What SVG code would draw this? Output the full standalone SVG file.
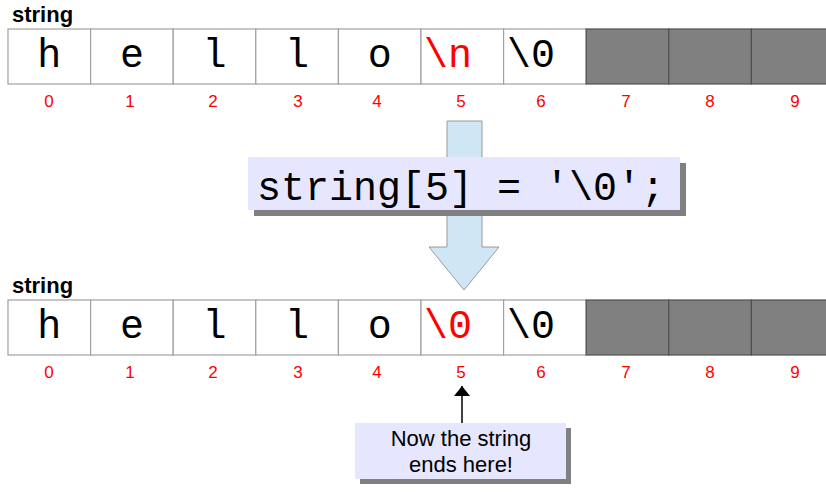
<svg xmlns="http://www.w3.org/2000/svg" width="826" height="494" viewBox="0 0 826 494">
<defs>
<style>
.lbl{font-family:"Liberation Sans",Arial,sans-serif;font-weight:bold;font-size:22px;fill:#000}
.idx{font-family:"Liberation Sans",Arial,sans-serif;font-size:17px;fill:#ff0000;text-anchor:middle}
.ch{font-family:"Liberation Mono","Courier New",monospace;font-size:40px;fill:#000}
.mid{text-anchor:middle}
.red{fill:#ff0000}
.cell{fill:#ffffff;stroke:#a0a0a0;stroke-width:1.2}
.gcell{fill:#808080;stroke:#505050;stroke-width:1.2}
.box{fill:#e6e6ff}
.shadow{fill:#808080}
.note{font-family:"Liberation Sans",Arial,sans-serif;font-size:22px;fill:#000;text-anchor:middle}
</style>
<marker id="ah" viewBox="0 0 10 16" refX="10" refY="8" markerWidth="10" markerHeight="16" markerUnits="userSpaceOnUse" orient="auto">
<path d="M0,0 L10,8 L0,16 Z" fill="#000"/>
</marker>
</defs>

<g id="array-before">
<text class="lbl" x="12" y="22">string</text>
<rect class="cell" x="8" y="29" width="82.6" height="55"/>
<rect class="cell" x="90.6" y="29" width="82.6" height="55"/>
<rect class="cell" x="173.2" y="29" width="82.6" height="55"/>
<rect class="cell" x="255.8" y="29" width="82.6" height="55"/>
<rect class="cell" x="338.4" y="29" width="82.6" height="55"/>
<rect class="cell" x="421" y="29" width="82.6" height="55"/>
<rect class="cell" x="503.6" y="29" width="82.6" height="55"/>
<rect class="gcell" x="586.2" y="29" width="82.6" height="55"/>
<rect class="gcell" x="668.8" y="29" width="82.6" height="55"/>
<rect class="gcell" x="751.4" y="29" width="82.6" height="55"/>
<text class="ch mid" x="49.3" y="67">h</text>
<text class="ch mid" x="131.9" y="67">e</text>
<text class="ch mid" x="214.5" y="67">l</text>
<text class="ch mid" x="297.1" y="67">l</text>
<text class="ch mid" x="379.7" y="67">o</text>
<text class="ch red" x="424" y="67">\n</text>
<text class="ch" x="507" y="67">\0</text>
<text class="idx" x="49" y="107">0</text>
<text class="idx" x="130" y="107">1</text>
<text class="idx" x="213" y="107">2</text>
<text class="idx" x="298" y="107">3</text>
<text class="idx" x="377" y="107">4</text>
<text class="idx" x="461" y="107">5</text>
<text class="idx" x="541" y="107">6</text>
<text class="idx" x="626" y="107">7</text>
<text class="idx" x="710" y="107">8</text>
<text class="idx" x="795" y="107">9</text>
</g>

<g id="transform-arrow">
<path d="M447,121 L482,121 L482,247 L499,247 L464,290 L429,247 L447,247 Z" fill="#cfe7f5" stroke="#999999" stroke-width="1"/>
</g>

<g id="code-box">
<rect class="shadow" x="254" y="163" width="432" height="53"/>
<rect class="box" x="248" y="157" width="432" height="53"/>
<text class="ch" x="257" y="200">string[5] = '\0';</text>
</g>

<g id="array-after">
<text class="lbl" x="12" y="293">string</text>
<rect class="cell" x="8" y="300" width="82.6" height="55"/>
<rect class="cell" x="90.6" y="300" width="82.6" height="55"/>
<rect class="cell" x="173.2" y="300" width="82.6" height="55"/>
<rect class="cell" x="255.8" y="300" width="82.6" height="55"/>
<rect class="cell" x="338.4" y="300" width="82.6" height="55"/>
<rect class="cell" x="421" y="300" width="82.6" height="55"/>
<rect class="cell" x="503.6" y="300" width="82.6" height="55"/>
<rect class="gcell" x="586.2" y="300" width="82.6" height="55"/>
<rect class="gcell" x="668.8" y="300" width="82.6" height="55"/>
<rect class="gcell" x="751.4" y="300" width="82.6" height="55"/>
<text class="ch mid" x="49.3" y="338">h</text>
<text class="ch mid" x="131.9" y="338">e</text>
<text class="ch mid" x="214.5" y="338">l</text>
<text class="ch mid" x="297.1" y="338">l</text>
<text class="ch mid" x="379.7" y="338">o</text>
<text class="ch red" x="424" y="338">\0</text>
<text class="ch" x="507" y="338">\0</text>
<text class="idx" x="49" y="378">0</text>
<text class="idx" x="130" y="378">1</text>
<text class="idx" x="213" y="378">2</text>
<text class="idx" x="298" y="378">3</text>
<text class="idx" x="377" y="378">4</text>
<text class="idx" x="461" y="378">5</text>
<text class="idx" x="541" y="378">6</text>
<text class="idx" x="626" y="378">7</text>
<text class="idx" x="710" y="378">8</text>
<text class="idx" x="795" y="378">9</text>
</g>

<g id="connectors">
<line x1="462" y1="423" x2="462" y2="386" stroke="#000" stroke-width="1.5" marker-end="url(#ah)"/>
</g>

<g id="note">
<rect class="shadow" x="360" y="428" width="211" height="56"/>
<rect class="box" x="355" y="423" width="211" height="56"/>
<text class="note" x="461" y="446">Now the string</text>
<text class="note" x="461" y="472">ends here!</text>
</g>
</svg>
